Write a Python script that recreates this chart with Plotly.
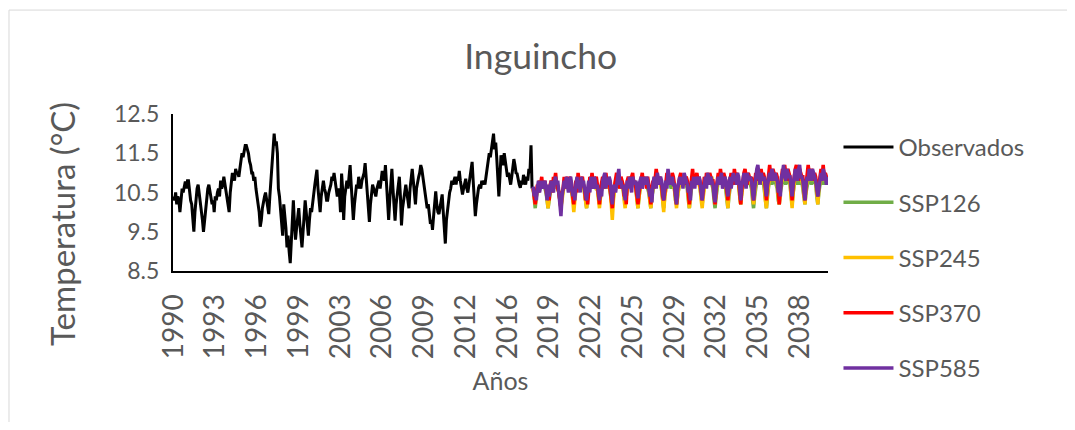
import pandas as pd
import plotly.graph_objects as go

# meses: 1990-01 .. 2040-12 (eje de categorías mensual)
months = pd.date_range("1990-01-01", "2040-12-01", freq="MS")
n_obs = 336  # 1990-2017

tick_years = [1990, 1993, 1996, 1999, 2003, 2006, 2009, 2012,
              2016, 2019, 2022, 2025, 2029, 2032, 2035, 2038]

observados = [
    10.4, 10.3, 10.5, 10.2, 10.4, 10.3, 10.0, 10.3, 10.6, 10.5, 10.7, 10.78,
    10.6, 10.8, 10.8, 10.5, 10.3, 10.2, 9.9, 9.5, 10.0, 10.4, 10.6, 10.7,
    10.5, 10.3, 10.1, 9.8, 9.5, 9.8, 10.2, 10.4, 10.6, 10.7, 10.5, 10.4,
    10.2, 10.3, 10.0, 10.4, 10.3, 10.5, 10.6, 10.4, 10.8, 10.6, 10.7, 10.9,
    10.7, 10.6, 10.4, 10.2, 10.0, 10.5, 10.8, 11.0, 10.9, 10.8, 11.1, 11.0,
    11.0, 10.9, 11.1, 11.3, 11.5, 11.4, 11.6, 11.7, 11.7, 11.6, 11.5, 11.3,
    11.2, 11.0, 11.0, 10.8, 10.9, 10.6, 10.4, 10.2, 10.0, 9.63, 9.8, 10.1,
    10.3, 10.4, 10.5, 10.3, 10.1, 9.95, 10.4, 10.8, 11.1, 11.6, 12.0, 11.7,
    11.8, 11.5, 10.6, 10.4, 10.1, 9.8, 9.4, 10.2, 9.9, 9.6, 9.1, 9.4,
    9.0, 8.7, 9.2, 9.8, 10.3, 9.7, 9.3, 9.6, 9.9, 10.1, 9.7, 9.4,
    9.1, 9.5, 9.9, 10.3, 10.0, 9.7, 9.4, 9.8, 10.1, 10.0, 10.3, 10.5,
    10.7, 10.9, 11.08, 10.6, 10.3, 10.0, 10.4, 10.6, 10.8, 10.6, 10.5, 10.3,
    10.3, 10.5, 10.6, 10.7, 10.9, 10.8, 11.0, 10.8, 10.6, 10.4, 10.6, 10.5,
    10.0, 10.98, 10.6, 9.8, 10.4, 10.7, 10.8, 10.6, 10.9, 11.2, 10.7, 10.2,
    9.8, 10.2, 10.5, 10.7, 10.6, 10.9, 10.7, 10.6, 10.8, 10.9, 11.0, 11.25,
    10.8, 10.4, 10.1, 9.75, 10.2, 10.5, 10.7, 10.6, 10.5, 10.4, 10.6, 10.7,
    10.8, 10.6, 10.9, 11.05, 10.9, 10.8, 11.2, 10.7, 10.2, 9.8, 10.3, 10.7,
    11.1, 10.6, 10.2, 9.78, 10.2, 10.5, 10.7, 10.9, 10.4, 9.66, 10.1, 10.4,
    10.5, 10.7, 10.5, 10.3, 10.1, 10.6, 10.9, 11.1, 10.8, 10.4, 10.2, 10.6,
    10.8, 10.9, 11.0, 11.2, 11.1, 10.9, 10.8, 10.5, 10.3, 10.1, 10.2, 9.9,
    9.7, 9.8, 9.55, 9.9, 10.2, 10.53, 10.2, 10.0, 9.95, 10.1, 10.3, 10.45,
    10.0, 9.6, 9.2, 9.8, 10.1, 10.3, 10.5, 10.6, 10.8, 10.7, 10.8, 10.9,
    10.7, 10.9, 10.8, 11.05, 10.8, 10.6, 10.45, 10.6, 10.7, 10.85, 10.6, 10.5,
    10.7, 10.9, 11.0, 11.28, 10.8, 10.3, 9.9, 10.2, 10.5, 10.62, 10.7, 10.6,
    10.8, 10.7, 10.8, 10.7, 10.9, 11.1, 11.3, 11.5, 11.4, 11.6, 11.8, 12.0,
    11.6, 11.77, 11.4, 11.0, 10.4, 10.9, 11.45, 11.3, 11.2, 11.5, 11.3, 11.1,
    10.9, 11.0, 10.8, 10.7, 10.9, 11.1, 11.35, 11.2, 11.0, 10.98, 10.8, 10.7,
    10.62, 10.8, 10.7, 10.95, 10.8, 10.7, 10.9, 10.8, 11.1, 11.0, 11.7, 10.6,
]

ssp126 = [
    10.6, 10.4, 10.1, 10.4, 10.6, 10.7, 10.6, 10.7, 10.8, 10.6, 10.7, 10.6,
    10.5, 10.3, 10.1, 10.3, 10.6, 10.7, 10.6, 10.8, 10.7, 10.6, 10.7, 10.6,
    10.5, 10.3, 10.1, 10.4, 10.6, 10.7, 10.8, 10.7, 10.6, 10.7, 10.8, 10.7,
    10.6, 10.3, 10.2, 10.4, 10.7, 10.8, 10.7, 10.6, 10.8, 10.7, 10.6, 10.7,
    10.5, 10.3, 10.1, 10.4, 10.6, 10.8, 10.9, 10.7, 10.6, 10.8, 10.7, 10.6,
    10.6, 10.3, 10.2, 10.4, 10.7, 10.8, 10.7, 10.8, 10.6, 10.7, 10.8, 10.7,
    10.5, 10.3, 10.1, 10.4, 10.6, 10.7, 10.8, 10.7, 10.8, 10.7, 10.6, 10.8,
    10.6, 10.3, 10.2, 10.4, 10.7, 10.8, 10.7, 10.9, 10.8, 10.7, 10.8, 10.7,
    10.6, 10.3, 10.1, 10.4, 10.7, 10.8, 10.7, 10.8, 10.7, 10.8, 10.7, 10.6,
    10.5, 10.3, 10.1, 10.4, 10.6, 10.8, 10.9, 10.8, 10.7, 10.8, 10.7, 10.8,
    10.6, 10.3, 10.1, 10.4, 10.7, 10.8, 10.7, 10.8, 10.7, 10.6, 10.8, 10.7,
    10.6, 10.3, 10.2, 10.4, 10.7, 10.8, 10.7, 10.9, 10.8, 10.7, 10.8, 10.7,
    10.6, 10.3, 10.1, 10.4, 10.7, 10.8, 10.7, 10.8, 10.7, 10.8, 10.7, 10.8,
    10.6, 10.4, 10.2, 10.5, 10.7, 10.8, 10.7, 10.8, 10.9, 10.7, 10.8, 10.7,
    10.6, 10.3, 10.1, 10.4, 10.7, 10.8, 10.7, 10.8, 10.7, 10.8, 10.9, 10.8,
    10.6, 10.3, 10.1, 10.4, 10.7, 10.8, 10.9, 10.8, 10.7, 10.8, 10.7, 10.8,
    10.7, 10.4, 10.2, 10.5, 10.7, 10.8, 10.7, 10.9, 10.8, 10.7, 10.8, 10.7,
    10.6, 10.3, 10.1, 10.4, 10.7, 10.8, 10.7, 10.8, 10.9, 10.8, 10.7, 10.8,
    10.6, 10.3, 10.1, 10.4, 10.7, 10.9, 10.8, 10.7, 10.8, 10.9, 10.8, 10.7,
    10.6, 10.3, 10.2, 10.5, 10.7, 10.8, 10.9, 10.8, 10.7, 10.8, 10.9, 10.8,
    10.7, 10.4, 10.2, 10.5, 10.8, 10.9, 10.8, 10.7, 10.9, 10.8, 10.7, 10.8,
    10.6, 10.4, 10.2, 10.5, 10.7, 10.8, 10.9, 10.8, 10.7, 10.8, 10.9, 10.8,
    10.7, 10.4, 10.2, 10.5, 10.8, 10.9, 10.8, 10.7, 10.8, 10.9, 10.8, 10.7,
]

ssp245 = [
    10.6, 10.4, 10.2, 10.4, 10.6, 10.7, 10.8, 10.6, 10.7, 10.8, 10.6, 10.7,
    10.6, 10.4, 10.1, 10.4, 10.6, 10.8, 10.7, 10.6, 10.8, 10.7, 10.6, 10.7,
    10.5, 10.3, 10.1, 10.3, 10.6, 10.7, 10.8, 10.7, 10.6, 10.8, 10.7, 10.6,
    10.6, 10.3, 10.0, 10.3, 10.6, 10.8, 10.7, 10.8, 10.7, 10.6, 10.8, 10.7,
    10.5, 10.3, 10.1, 10.4, 10.7, 10.8, 10.7, 10.6, 10.8, 10.7, 10.8, 10.6,
    10.6, 10.3, 10.1, 10.4, 10.7, 10.8, 10.7, 10.9, 10.8, 10.7, 10.6, 10.8,
    10.6, 10.2, 9.8, 10.3, 10.6, 10.8, 10.7, 10.8, 10.7, 10.6, 10.8, 10.7,
    10.6, 10.3, 10.1, 10.4, 10.7, 10.8, 10.7, 10.8, 10.9, 10.7, 10.8, 10.7,
    10.6, 10.3, 10.1, 10.4, 10.7, 10.8, 10.7, 10.9, 10.8, 10.7, 10.8, 10.7,
    10.6, 10.3, 10.1, 10.4, 10.7, 10.8, 10.7, 10.8, 10.9, 10.7, 10.8, 10.7,
    10.6, 10.3, 10.0, 10.4, 10.7, 10.8, 10.9, 10.8, 10.7, 10.8, 10.9, 10.8,
    10.6, 10.3, 10.1, 10.4, 10.7, 10.8, 10.7, 10.9, 10.8, 10.7, 10.8, 10.9,
    10.7, 10.4, 10.1, 10.5, 10.7, 10.9, 10.8, 10.7, 10.8, 10.9, 10.8, 10.7,
    10.6, 10.3, 10.1, 10.4, 10.7, 10.8, 10.9, 10.8, 10.7, 10.9, 10.8, 10.9,
    10.7, 10.4, 10.2, 10.5, 10.8, 10.9, 10.8, 10.9, 10.8, 10.7, 10.9, 10.8,
    10.7, 10.4, 10.1, 10.5, 10.8, 10.9, 10.8, 10.9, 10.8, 11.0, 10.9, 10.8,
    10.7, 10.4, 10.2, 10.5, 10.8, 10.9, 10.8, 10.9, 11.0, 10.8, 10.9, 10.8,
    10.7, 10.4, 10.2, 10.5, 10.8, 10.9, 11.0, 10.8, 10.9, 10.8, 10.9, 10.8,
    10.7, 10.3, 10.1, 10.5, 10.8, 10.9, 10.8, 11.0, 10.9, 10.8, 10.9, 10.8,
    10.7, 10.4, 10.2, 10.6, 10.8, 10.9, 10.8, 11.0, 10.9, 10.8, 11.0, 10.9,
    10.8, 10.4, 10.1, 10.5, 10.8, 11.0, 10.9, 10.8, 10.9, 11.0, 10.9, 10.8,
    10.7, 10.4, 10.2, 10.6, 10.9, 11.0, 10.9, 10.8, 11.0, 10.9, 10.8, 10.9,
    10.8, 10.5, 10.2, 10.6, 10.8, 10.9, 11.0, 10.9, 10.8, 10.9, 10.8, 10.7,
]

ssp370 = [
    10.6, 10.4, 10.2, 10.5, 10.7, 10.5, 10.8, 10.7, 10.9, 10.6, 10.7, 10.8,
    10.6, 10.4, 10.6, 10.3, 10.7, 10.8, 10.5, 10.9, 10.8, 11.0, 10.7, 10.6,
    10.5, 10.3, 10.1, 10.5, 10.6, 10.9, 10.6, 10.8, 10.9, 10.6, 10.9, 10.8,
    10.6, 10.4, 10.2, 10.6, 10.8, 10.5, 11.0, 10.8, 10.6, 10.8, 10.9, 10.7,
    10.6, 10.3, 10.5, 10.2, 10.7, 10.9, 10.7, 11.0, 10.8, 10.6, 10.8, 10.9,
    10.7, 10.4, 10.2, 10.6, 10.8, 10.9, 10.6, 10.9, 11.0, 10.7, 10.8, 10.8,
    10.6, 10.3, 10.1, 10.5, 10.7, 10.9, 11.0, 10.7, 10.9, 10.6, 10.9, 10.8,
    10.7, 10.4, 10.6, 10.2, 10.8, 10.9, 10.7, 10.8, 10.9, 11.0, 10.7, 10.8,
    10.6, 10.4, 10.2, 10.5, 10.7, 10.9, 11.0, 10.7, 10.8, 10.9, 10.6, 10.9,
    10.7, 10.4, 10.2, 10.6, 10.8, 10.6, 10.9, 11.1, 10.9, 10.7, 10.9, 10.8,
    10.7, 10.4, 10.3, 10.5, 10.8, 11.0, 10.8, 10.7, 10.9, 10.8, 11.0, 10.9,
    10.7, 10.4, 10.2, 10.6, 10.8, 10.9, 11.0, 10.7, 10.8, 10.9, 10.7, 10.9,
    10.8, 10.5, 10.2, 10.6, 10.8, 11.1, 10.8, 10.7, 10.9, 11.0, 10.8, 10.9,
    10.7, 10.5, 10.3, 10.6, 10.9, 10.7, 11.0, 10.9, 10.7, 11.0, 10.9, 10.8,
    10.8, 10.5, 10.2, 10.6, 10.9, 11.0, 10.8, 11.1, 10.9, 10.7, 11.0, 10.9,
    10.8, 10.5, 10.3, 10.6, 10.9, 11.0, 10.8, 10.7, 11.1, 10.9, 11.0, 10.9,
    10.8, 10.5, 10.2, 10.6, 10.9, 11.0, 11.1, 10.8, 10.7, 11.0, 10.9, 10.8,
    10.9, 10.5, 10.3, 10.7, 11.0, 10.8, 11.1, 11.0, 10.8, 11.1, 10.9, 11.0,
    10.9, 10.6, 10.3, 10.7, 11.0, 11.2, 10.9, 10.8, 11.1, 11.0, 10.8, 11.0,
    10.9, 10.5, 10.2, 10.6, 11.0, 11.1, 10.9, 11.2, 11.0, 10.8, 11.1, 11.0,
    10.9, 10.6, 10.3, 10.7, 11.0, 11.1, 11.2, 10.9, 10.8, 11.1, 11.0, 10.9,
    10.9, 10.6, 10.3, 10.7, 11.0, 11.2, 11.0, 10.8, 11.1, 11.0, 10.8, 11.0,
    10.9, 10.6, 10.4, 10.7, 11.0, 11.1, 10.9, 11.2, 10.9, 11.0, 10.9, 10.8,
]

ssp585 = [
    10.65, 10.4, 10.5, 10.3, 10.6, 10.8, 10.5, 10.7, 10.8, 10.6, 10.7, 10.8,
    10.6, 10.3, 10.7, 10.4, 10.6, 10.8, 10.7, 10.5, 10.8, 10.9, 10.7, 10.8,
    10.5, 10.2, 9.9, 10.4, 10.7, 10.8, 10.6, 10.9, 10.7, 10.5, 10.8, 10.9,
    10.7, 10.4, 10.6, 10.3, 10.7, 10.9, 10.6, 10.8, 10.5, 10.9, 10.7, 10.8,
    10.6, 10.4, 10.3, 10.6, 10.8, 10.5, 10.9, 10.7, 10.6, 10.9, 10.8, 10.6,
    10.7, 10.5, 10.3, 10.6, 10.4, 10.8, 10.9, 11.0, 10.6, 10.8, 10.7, 10.9,
    10.8, 10.4, 10.2, 10.6, 10.7, 10.5, 10.8, 10.9, 11.1, 10.7, 10.8, 10.6,
    10.7, 10.5, 10.3, 10.6, 10.8, 10.6, 10.9, 10.7, 10.5, 10.9, 10.8, 10.7,
    10.8, 10.5, 10.35, 10.7, 10.8, 10.9, 10.6, 10.8, 10.9, 10.7, 10.9, 10.8,
    10.6, 10.4, 10.6, 10.25, 10.7, 10.9, 10.8, 10.6, 11.0, 10.8, 10.7, 10.9,
    10.8, 10.5, 10.3, 10.6, 10.8, 10.6, 11.1, 10.9, 10.7, 10.8, 10.9, 10.7,
    10.7, 10.4, 10.2, 10.6, 10.8, 10.9, 10.7, 10.9, 10.6, 11.0, 10.9, 10.8,
    10.7, 10.5, 10.6, 10.3, 10.8, 10.7, 10.9, 10.6, 10.9, 10.8, 10.7, 10.9,
    10.8, 10.5, 10.3, 10.6, 10.7, 10.9, 10.6, 11.0, 10.9, 10.7, 10.9, 10.8,
    10.7, 10.4, 10.25, 10.6, 10.8, 10.9, 10.7, 10.9, 11.0, 10.6, 10.8, 10.9,
    10.8, 10.6, 10.4, 10.7, 10.9, 10.6, 10.9, 11.0, 10.8, 10.9, 10.7, 11.0,
    10.9, 10.6, 10.3, 10.7, 10.8, 11.0, 10.8, 10.6, 11.0, 10.9, 10.8, 10.9,
    10.8, 10.5, 10.3, 10.6, 10.9, 11.1, 11.2, 10.9, 10.7, 11.0, 10.9, 10.8,
    10.9, 10.6, 10.4, 10.7, 10.9, 11.0, 10.8, 11.1, 11.0, 10.8, 11.0, 10.9,
    10.8, 10.5, 10.7, 10.4, 10.9, 11.0, 11.2, 10.9, 10.8, 11.1, 11.0, 10.9,
    10.9, 10.6, 10.4, 10.7, 10.9, 11.1, 10.9, 10.8, 11.1, 11.2, 10.9, 10.9,
    10.8, 10.5, 10.3, 10.7, 10.9, 10.8, 11.1, 11.0, 10.8, 11.1, 11.0, 10.9,
    10.8, 10.6, 10.4, 10.6, 10.9, 11.0, 10.8, 11.1, 11.0, 10.9, 10.7, 10.9,
]

x_obs = months[:n_obs]
x_proj = months[n_obs:]

gray = "#595959"
fnt = "Lato, 'Noto Sans', sans-serif"

fig = go.Figure()

fig.add_trace(go.Scatter(x=x_obs, y=observados, mode="lines", name="Observados",
                         legendgroup="a", line=dict(color="#000000", width=3)))
fig.add_trace(go.Scatter(x=x_proj, y=ssp126, mode="lines", name="SSP126",
                         legendgroup="b", line=dict(color="#70AD47", width=3.5)))
fig.add_trace(go.Scatter(x=x_proj, y=ssp245, mode="lines", name="SSP245",
                         legendgroup="c", line=dict(color="#FFC000", width=3.5)))
fig.add_trace(go.Scatter(x=x_proj, y=ssp370, mode="lines", name="SSP370",
                         legendgroup="d", line=dict(color="#FF0000", width=3.5)))
fig.add_trace(go.Scatter(x=x_proj, y=ssp585, mode="lines", name="SSP585",
                         legendgroup="e", line=dict(color="#7030A0", width=3.5)))

fig.update_xaxes(
    range=["1989-12-16", "2040-12-16"],
    tickvals=list(months[::39]),
    ticktext=[str(y) for y in tick_years],
    tickangle=-90,
    ticks="",
    ticklabelstandoff=10,
    tickfont=dict(size=28, color=gray),
    showline=True, linecolor="#000000", linewidth=2,
    showgrid=False, zeroline=False, automargin=False,
    title=dict(text="Años", font=dict(size=25, color=gray), standoff=14),
)
fig.update_yaxes(
    range=[8.5, 12.5],
    tickvals=[8.5, 9.5, 10.5, 11.5, 12.5],
    ticktext=["8.5", "9.5", "10.5", "11.5", "12.5"],
    ticks="",
    ticklabelstandoff=7,
    tickfont=dict(size=23, color=gray),
    showline=True, linecolor="#000000", linewidth=2,
    showgrid=False, zeroline=False, automargin=False,
)

# la página tiene 8 px de margen en el body: se compensa aquí
fig.update_layout(
    width=1059, height=414,
    margin=dict(l=165, r=239, t=106, b=151, autoexpand=False),
    paper_bgcolor="white", plot_bgcolor="white",
    font=dict(family=fnt, color=gray),
    title=dict(text="Inguincho", x=0.503, xanchor="center", y=0.882, yanchor="middle",
               font=dict(size=35.5, color=gray)),
    legend=dict(x=1.016, xanchor="left", y=0.93, yanchor="top",
                font=dict(size=24, color=gray), traceorder="grouped",
                tracegroupgap=21, itemwidth=50, maxheight=420),
    showlegend=True,
    annotations=[dict(text="Temperatura (°C)", textangle=-90, showarrow=False,
                      xref="paper", yref="paper", x=-0.1695, y=0.30,
                      xanchor="center", yanchor="middle",
                      font=dict(size=33, color=gray))],
    shapes=[dict(type="rect", xref="paper", yref="paper",
                 x0=-0.2504, x1=1.385, y0=-1.076, y1=1.662,
                 line=dict(color="#D9D9D9", width=1), fillcolor="rgba(0,0,0,0)",
                 layer="below")],
)

fig.write_html("out.html")
